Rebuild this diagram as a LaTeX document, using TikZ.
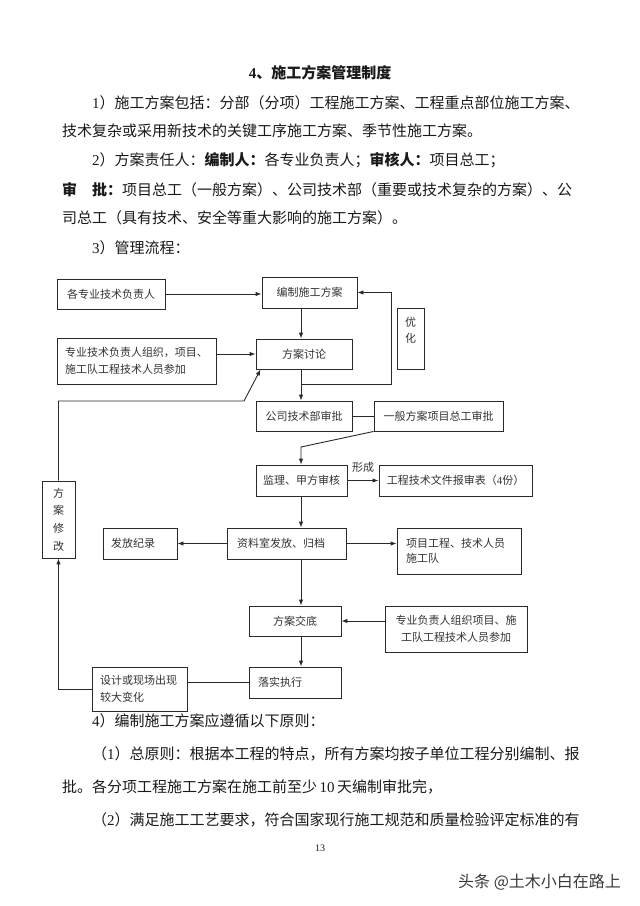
\documentclass[tikz,border=0pt]{standalone}
\usepackage{fontspec}
\setmainfont{Liberation Serif}
\newfontfamily\cjk{Noto Sans CJK SC}
\newfontfamily\lat{Liberation Serif}
\usetikzlibrary{arrows.meta,calc}
\definecolor{linec}{HTML}{2A2A2A}
\definecolor{txtc}{HTML}{333333}
\definecolor{bodyc}{HTML}{1A1A1A}
\definecolor{wmc}{HTML}{3A3A3A}
\begin{document}
\begin{tikzpicture}[x=1pt,y=-1pt,
  box/.style={draw=linec, line width=0.9pt, inner sep=0pt, font=\cjk\fontsize{11}{16.5}\selectfont, text=txtc},
  arr/.style={draw=linec, line width=0.9pt, -{Latex[length=6pt,width=4.5pt]}},
  ln/.style={draw=linec, line width=0.9pt},
  body/.style={anchor=west, inner sep=0pt, font=\cjk\fontsize{15}{15}\selectfont, text=bodyc},
  lbl/.style={inner sep=0pt, font=\cjk\fontsize{11}{16.5}\selectfont, text=txtc}]
\fill[white] (0,0) rectangle (640,906);
\useasboundingbox (0,0) rectangle (640,906);

% ---- header text ----
\node[body, anchor=center] (t0) at (320,73) {\bfseries{\lat 4}、施工方案管理制度};
\node[body] (t1) at (92,103) {{\lat 1}）施工方案包括：分部（分项）工程施工方案、工程重点部位施工方案、};
\node[body] (t2) at (62,131) {技术复杂或采用新技术的关键工序施工方案、季节性施工方案。};
\node[body] (t3) at (92,160) {{\lat 2}）方案责任人：{\bfseries 编制人：}各专业负责人；{\bfseries 审核人：}项目总工；};
\node[body] (t4) at (62,190) {{\bfseries 审\hspace*{15pt}批：}项目总工（一般方案）、公司技术部（重要或技术复杂的方案）、公};
\node[body] (t5) at (62,218) {司总工（具有技术、安全等重大影响的施工方案）。};
\node[body] (t6) at (92,248) {{\lat 3}）管理流程：};

% ---- flowchart boxes ----
\node[box, minimum width=108pt, minimum height=30pt] (A) at (111,294) {各专业技术负责人};
\node[box, minimum width=95pt, minimum height=31pt] (B) at (309.5,292.5) {编制施工方案};
\node[box, minimum width=96pt, minimum height=30pt] (C) at (304,354) {方案讨论};
\node[box, minimum width=159pt, minimum height=46pt, align=left] (D) at (136.5,361) {专业技术负责人组织，项目、\\施工队工程技术人员参加};
\node[box, minimum width=27pt, minimum height=61pt] (Q) at (410.5,338.5) {};
\node[lbl, align=center, font=\cjk\fontsize{11}{16}\selectfont] (Qt) at (410.5,330) {优\\化};
\node[box, minimum width=96pt, minimum height=30pt] (E) at (304,416) {公司技术部审批};
\node[box, minimum width=129pt, minimum height=30pt] (F) at (438.5,416) {一般方案项目总工审批};
\node[box, minimum width=91pt, minimum height=31pt] (G) at (301.5,480.5) {监理、甲方审核};
\node[box, minimum width=153pt, minimum height=31pt] (H) at (455.5,480.5) {工程技术文件报审表（{\lat 4}份）};
\node[box, minimum width=119pt, minimum height=31pt, text width=99pt, align=left] (I) at (286.5,543.5) {资料室发放、归档};
\node[box, minimum width=74pt, minimum height=31pt, text width=58pt, align=left] (J) at (140,543.5) {发放纪录};
\node[box, minimum width=124pt, minimum height=46pt, text width=106pt, align=left, font=\cjk\fontsize{11}{15.5}\selectfont] (K) at (459,551) {项目工程、技术人员\\施工队};
\node[box, minimum width=92pt, minimum height=30pt] (L) at (295,621) {方案交底};
\node[box, minimum width=142pt, minimum height=46pt, align=center] (M) at (456,629) {专业负责人组织项目、施\\工队工程技术人员参加};
\node[box, minimum width=92pt, minimum height=31pt, text width=74pt, align=left] (N) at (295,682.5) {落实执行};
\node[box, minimum width=95pt, minimum height=44pt, text width=79pt, align=left] (O) at (139.5,689) {设计或现场出现\\较大变化};
\node[box, minimum width=33pt, minimum height=77pt, align=center, font=\cjk\fontsize{11}{17.7}\selectfont] (P) at (58.5,519.5) {方\\案\\修\\改};

% ---- connectors ----
\coordinate (sx) at (301,0);
\draw[arr] (A.east) -- (A.east -| B.west);
\draw[arr] (B.south -| sx) -- (C.north -| sx);
\draw[arr] (C.west -| D.east) -- (C.west);
\draw[arr] (C.south -| sx) -- (E.north -| sx);
\coordinate (lp) at (391,384);
\draw[arr] (lp -| sx) -- (lp) |- (B.east);
\draw[ln] (E.east) -- (F.west);
\coordinate (kk) at (301,447);
\draw[arr] (F.south west) -- (kk) -- (G.north -| sx);
\draw[arr] (G.east) -- (G.east -| H.west) node[lbl, midway, yshift=13.5pt] {形成};
\draw[arr] (G.south -| sx) -- (I.north -| sx);
\draw[arr] (I.west) -- (J.east);
\draw[arr] (I.east) -- (I.east -| K.west);
\draw[arr] (I.south -| sx) -- (L.north -| sx);
\draw[arr] (L.east -| M.west) -- (L.east);
\draw[arr] (L.south -| sx) -- (N.north -| sx);
\draw[ln] (N.west) -- (N.west -| O.east);
\draw[arr] (O.west) -| (P.south);
\coordinate (c1) at (244,401);
\draw[arr] (P.north) |- (c1) -- ($(C.south west)+(5,0)$);

% ---- footer text ----
\node[body] (b1) at (92,721) {{\lat 4}）编制施工方案应遵循以下原则：};
\node[body] (b2) at (92,754) {（{\lat 1}）总原则：根据本工程的特点，所有方案均按子单位工程分别编制、报};
\node[body] (b3) at (62,787) {批。各分项工程施工方案在施工前至少\,{\lat 10}\,天编制审批完，};
\node[body] (b4) at (92,820) {（{\lat 2}）满足施工工艺要求，符合国家现行施工规范和质量检验评定标准的有};
\node[inner sep=0pt, text=bodyc, font=\lat\fontsize{10}{10}\selectfont] (pg) at (320,848) {13};
\node[anchor=west, inner sep=0pt, text=wmc, font=\cjk\fontsize{16}{16}\selectfont] (wm) at (458,882) {头条 @土木小白在路上};
\end{tikzpicture}
\end{document}
